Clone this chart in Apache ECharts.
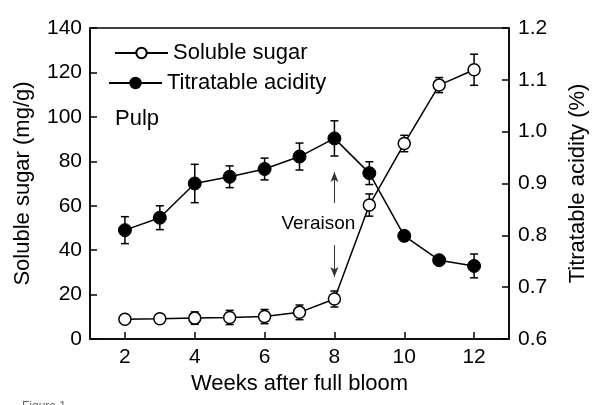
<!DOCTYPE html>
<html>
<head>
<meta charset="utf-8">
<script src="https://cdn.jsdelivr.net/npm/echarts@6/dist/echarts.min.js"></script>
<style>html,body{margin:0;padding:0;background:#fff}#c{width:600px;height:405px}</style>
</head>
<body>
<div id="c"></div>
<script>
var weeks = [2, 3, 4, 5, 6, 7, 8, 9, 10, 11, 12];
var sugar = [8.9, 9.1, 9.4, 9.7, 10.1, 12.0, 18.0, 60.3, 88.0, 114.3, 121.2];
var sugarErr = [1.5, 2.0, 2.8, 3.2, 3.2, 3.3, 3.6, 5.0, 3.7, 3.4, 7.0];
var acid = [0.810, 0.834, 0.900, 0.913, 0.928, 0.952, 0.987, 0.920, 0.799, 0.752, 0.741];
var acidErr = [0.026, 0.023, 0.037, 0.021, 0.021, 0.026, 0.034, 0.022, 0.005, 0.004, 0.023];
var xTicks = [2, 4, 6, 8, 10, 12];
var leftTicks = [0, 20, 40, 60, 80, 100, 120, 140];
var rightTicks = [0.6, 0.7, 0.8, 0.9, 1.0, 1.1, 1.2];

var FONT = 'Liberation Sans, Arial, sans-serif';
var chart = echarts.init(document.getElementById('c'));

function pairs(v) { return weeks.map(function (w, i) { return [w, v[i]]; }); }
function errs(v, e) { return weeks.map(function (w, i) { return [w, v[i] - e[i], v[i] + e[i]]; }); }

function errRender(params, api) {
  var x = api.value(0);
  var lo = api.coord([x, api.value(1)]);
  var hi = api.coord([x, api.value(2)]);
  var c = 4;
  var st = { stroke: '#000', lineWidth: 1.5 };
  return {
    type: 'group',
    children: [
      { type: 'line', shape: { x1: lo[0], y1: lo[1], x2: hi[0], y2: hi[1] }, style: st },
      { type: 'line', shape: { x1: hi[0] - c, y1: hi[1], x2: hi[0] + c, y2: hi[1] }, style: st },
      { type: 'line', shape: { x1: lo[0] - c, y1: lo[1], x2: lo[0] + c, y2: lo[1] }, style: st }
    ]
  };
}

var axisLine = { show: true, lineStyle: { color: '#000', width: 1.5 } };
var tick = { show: true, inside: true, length: 7, lineStyle: { color: '#000', width: 1.5 } };

chart.setOption({
  animation: false,
  backgroundColor: '#fff',
  textStyle: { fontFamily: FONT },
  grid: { left: 90, right: 91, top: 28, bottom: 66, show: true, borderColor: '#000', borderWidth: 1.5 },
  legend: [
    {
      data: ['Soluble sugar'], left: 114, top: 42, orient: 'vertical',
      itemWidth: 53, itemHeight: 13, padding: 0,
      textStyle: { fontSize: 22, color: '#000', fontFamily: FONT }
    },
    {
      data: ['Titratable acidity'], left: 108, top: 72, orient: 'vertical',
      itemWidth: 53, itemHeight: 13, padding: 0,
      textStyle: { fontSize: 22, color: '#000', fontFamily: FONT }
    }
  ],
  xAxis: {
    type: 'value', min: 1, max: 13, interval: 1,
    name: 'Weeks after full bloom', nameLocation: 'middle', nameGap: 33,
    nameTextStyle: { fontSize: 22, color: '#000', fontFamily: FONT },
    axisLine: axisLine,
    axisTick: Object.assign({ customValues: xTicks }, tick),
    axisLabel: { customValues: xTicks, fontSize: 21, color: '#000', margin: 8, fontFamily: FONT },
    splitLine: { show: false }
  },
  yAxis: [
    {
      type: 'value', min: 0, max: 140, interval: 20, position: 'left',
      name: 'Soluble sugar (mg/g)', nameLocation: 'middle', nameGap: 56,
      nameTextStyle: { fontSize: 22, color: '#000', fontFamily: FONT },
      axisLine: axisLine, axisTick: tick,
      axisLabel: { fontSize: 21, color: '#000', margin: 8, fontFamily: FONT },
      splitLine: { show: false }
    },
    {
      type: 'value', min: 0.6, max: 1.2, interval: 0.1, position: 'right',
      name: 'Titratable acidity (%)', nameLocation: 'middle', nameGap: 58, nameRotate: 90,
      nameTextStyle: { fontSize: 22, color: '#000', fontFamily: FONT },
      axisLine: axisLine, axisTick: tick,
      axisLabel: { fontSize: 21, color: '#000', margin: 9, fontFamily: FONT,
        formatter: function (v) { return v.toFixed(1); } },
      splitLine: { show: false }
    }
  ],
  graphic: [
    { type: 'text', left: 115, top: 108, style: { text: 'Pulp', fontSize: 22, fill: '#000', fontFamily: FONT } },
    { type: 'text', left: 22, top: 401, style: { text: 'Figure 1', fontSize: 12, fill: '#666', fontFamily: FONT } }
  ],
  series: [
    {
      type: 'custom', name: 'sugarErr', yAxisIndex: 0, renderItem: errRender,
      data: errs(sugar, sugarErr), z: 1, silent: true
    },
    {
      type: 'custom', name: 'acidErr', yAxisIndex: 1, renderItem: errRender,
      data: errs(acid, acidErr), z: 1, silent: true
    },
    {
      name: 'Titratable acidity', type: 'line', yAxisIndex: 1, data: pairs(acid),
      symbol: 'circle', symbolSize: 13, showAllSymbol: true, z: 3,
      lineStyle: { color: '#000', width: 1.5 },
      itemStyle: { color: '#000', borderColor: '#000', borderWidth: 1 }
    },
    {
      name: 'Soluble sugar', type: 'line', yAxisIndex: 0, data: pairs(sugar),
      symbol: 'circle', symbolSize: 12, showAllSymbol: true, z: 4,
      lineStyle: { color: '#000', width: 1.5 },
      itemStyle: { color: '#fff', borderColor: '#000', borderWidth: 1.5 },
      markLine: {
        silent: true, symbol: ['none', 'arrow'], symbolSize: [6, 10],
        lineStyle: { color: '#333', width: 1, type: 'solid' },
        label: { show: false },
        data: [
          [{ coord: [8, 61.2] }, { coord: [8, 75.2] }],
          [{ coord: [8, 42.3] }, { coord: [8, 27.9] }]
        ]
      },
      markPoint: {
        silent: true, symbol: 'circle', symbolSize: 0,
        label: { show: true, formatter: 'Veraison', fontSize: 19, color: '#000', fontFamily: FONT, position: 'inside' },
        data: [{ coord: [7.54, 51.8] }]
      }
    }
  ]
});
</script>
</body>
</html>
